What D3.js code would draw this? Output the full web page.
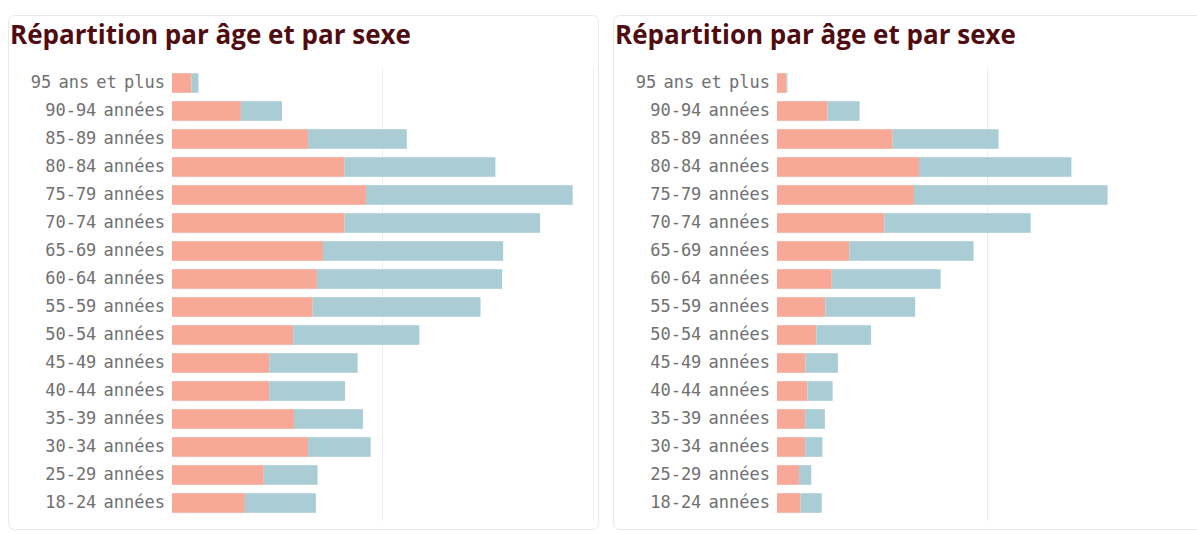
<!DOCTYPE html>
<html>
<head>
<meta charset="utf-8">
<script src="https://cdn.jsdelivr.net/npm/d3@7"></script>
<style>
  html, body { margin: 0; padding: 0; background: #ffffff; }
  svg { display: block; }
</style>
</head>
<body>
<svg id="chart" width="1197" height="534"></svg>
<script>
const title = "Répartition par âge et par sexe";
const categories = ["95 ans et plus","90-94 années","85-89 années","80-84 années","75-79 années","70-74 années","65-69 années","60-64 années","55-59 années","50-54 années","45-49 années","40-44 années","35-39 années","30-34 années","25-29 années","18-24 années"];
const leftFemmes = [0.93,3.28,6.48,8.20,9.24,8.22,7.19,6.90,6.70,5.77,4.63,4.63,5.81,6.48,4.37,3.47];
const leftHommes = [0.33,1.96,4.70,7.20,9.84,9.31,8.58,8.82,7.99,6.01,4.21,3.61,3.28,2.98,2.56,3.38];
const rightFemmes = [0.45,2.41,5.51,6.76,6.52,5.11,3.44,2.61,2.30,1.87,1.36,1.45,1.34,1.34,1.05,1.12];
const rightHommes = [0.05,1.52,5.04,7.26,9.22,6.97,5.92,5.18,4.28,2.61,1.54,1.20,0.94,0.82,0.58,1.01];
const gridTicks = [10];

const svg = d3.select("#chart");
const colF = "#f7a897", colM = "#aacdd5";

function panel(ox, femmes, hommes) {
  const g = svg.append("g").attr("transform", `translate(${ox},0)`);
  g.append("rect").attr("x", 8.5).attr("y", 15.5).attr("width", 590).attr("height", 514)
    .attr("rx", 6).attr("fill", "#fff").attr("stroke", "#e8e8e8");
  g.append("text").attr("x", 10).attr("y", 44).text(title)
    .attr("font-family", "Open Sans, sans-serif").attr("font-weight", 700)
    .attr("font-size", 26).attr("fill", "#4f0d12");
  const x = d3.scaleLinear().domain([0, 10]).range([172, 382]);
  const y = d3.scaleBand().domain(categories).range([69, 517]).paddingInner(0.3).paddingOuter(0.15);
  g.append("line").attr("x1", 593.5).attr("x2", 593.5).attr("y1", 68).attr("y2", 521).attr("stroke", "#efefef");
  g.selectAll("line.grid").data(gridTicks).join("line").attr("class", "grid")
    .attr("x1", d => Math.round(x(d)) + 0.5).attr("x2", d => Math.round(x(d)) + 0.5)
    .attr("y1", 68).attr("y2", 521).attr("stroke", "#ececec");
  const rows = categories.map((c, i) => ({c, f: femmes[i], m: hommes[i]}));
  g.selectAll("rect.f").data(rows).join("rect").attr("class", "f")
    .attr("x", x(0)).attr("y", d => y(d.c)).attr("height", y.bandwidth())
    .attr("width", d => x(d.f) - x(0)).attr("fill", colF);
  g.selectAll("rect.m").data(rows).join("rect").attr("class", "m")
    .attr("x", d => x(d.f)).attr("y", d => y(d.c)).attr("height", y.bandwidth())
    .attr("width", d => x(d.f + d.m) - x(d.f)).attr("fill", colM);
  const axis = d3.axisLeft(y).tickSize(0).tickPadding(7);
  const ag = g.append("g").attr("transform", `translate(${x(0)},0)`).call(axis);
  ag.select(".domain").remove();
  ag.selectAll("text").attr("font-family", "DejaVu Sans Mono, monospace")
    .attr("font-size", 17).attr("word-spacing", -3).attr("fill", "#707070");
}
panel(0, leftFemmes, leftHommes);
panel(605, rightFemmes, rightHommes);
</script>
</body>
</html>
